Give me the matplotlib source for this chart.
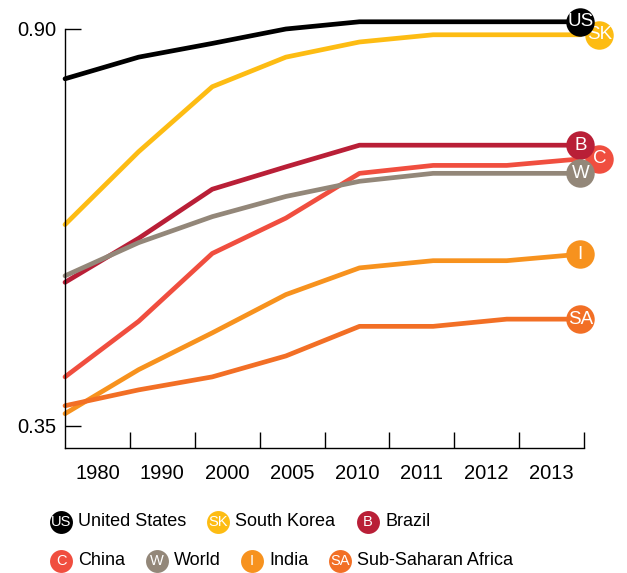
import numpy as np
import matplotlib.pyplot as plt
import matplotlib.transforms as mtransforms

plt.rcParams['font.family'] = ['Liberation Sans', 'DejaVu Sans']

# data
years = ['1980', '1990', '2000', '2005', '2010', '2011', '2012', '2013']
codes = ['US', 'SK', 'B', 'C', 'W', 'I', 'SA']
names = ['United States', 'South Korea', 'Brazil', 'China', 'World', 'India', 'Sub-Saharan Africa']
colors = ['#000000', '#FDBC13', '#B91F37', '#F04E3F', '#938779', '#F7921E', '#F26F25']

us = [0.831, 0.861, 0.880, 0.900, 0.910, 0.910, 0.910, 0.910]
south_korea = [0.629, 0.730, 0.820, 0.861, 0.882, 0.892, 0.892, 0.892]
brazil = [0.549, 0.610, 0.678, 0.709, 0.739, 0.739, 0.739, 0.739]
china = [0.418, 0.495, 0.589, 0.638, 0.700, 0.711, 0.711, 0.720]
world = [0.558, 0.604, 0.640, 0.668, 0.689, 0.700, 0.700, 0.700]
india = [0.367, 0.428, 0.479, 0.532, 0.569, 0.579, 0.579, 0.588]
ssa = [0.378, 0.400, 0.418, 0.447, 0.488, 0.488, 0.498, 0.498]
series = [us, south_korea, brazil, china, world, india, ssa]

fig = plt.figure(figsize=(6.27, 5.73), dpi=100)
ax = fig.add_axes([0.1037, 0.2182, 0.8278, 0.7312])

x = np.arange(len(years))
xmax = 7.05
ax.set_xlim(0, xmax)
ax.set_ylim(0.3195, 0.90)

# lines, then end markers (SK and C pushed right and sitting behind)
for vals, col in zip(series, colors):
    ax.plot(x, vals, color=col, lw=3.4, solid_capstyle='round', clip_on=False, zorder=2)

shift = {'SK': 19, 'C': 19}
order = ['SK', 'C', 'US', 'B', 'W', 'I', 'SA']
for k, code in enumerate(order):
    i = codes.index(code)
    tr = mtransforms.offset_copy(ax.transData, fig=fig, x=shift.get(code, 0), y=0, units='dots')
    ax.plot([x[-1]], [series[i][-1]], 'o', ms=20.5, color=colors[i], mec='none',
            transform=tr, clip_on=False, zorder=5 + k)
    ax.text(x[-1], series[i][-1], code, transform=tr, color='white', fontsize=13.5,
            ha='center', va='center', zorder=5 + k, clip_on=False)

# axes styling
for s in ['top', 'right']:
    ax.spines[s].set_visible(False)
for s in ['left', 'bottom']:
    ax.spines[s].set_linewidth(1.0)
ax.set_yticks([0.35, 0.90])
ax.set_yticklabels(['0.35', '0.90'])
ax.tick_params(axis='y', direction='in', length=11.5, width=1, pad=6, labelsize=14.5)

band = xmax / len(years)
ax.set_xticks([band * (k + 1) for k in range(len(years))])
ax.set_xticklabels([])
ax.set_xticks([band * (k + 0.5) for k in range(len(years))], minor=True)
ax.set_xticklabels(years, minor=True)
ax.tick_params(axis='x', which='major', direction='in', length=11.5, width=1)
ax.tick_params(axis='x', which='minor', length=0, pad=11.5, labelsize=14.5)

# legend built by hand
leg = [
    ('US', 0.0973, 0.0895), ('SK', 0.3477, 0.0895), ('B', 0.5869, 0.0895),
    ('C', 0.0973, 0.0213), ('W', 0.2504, 0.0213), ('I', 0.4019, 0.0213), ('SA', 0.5423, 0.0213),
]
for code, fx, fy in leg:
    i = codes.index(code)
    ax.plot([fx], [fy], 'o', ms=16.5, color=colors[i], mec='none',
            transform=fig.transFigure, clip_on=False)
    fig.text(fx, fy, code, color='white', fontsize=10.5, ha='center', va='center')
    fig.text(fx + 0.0275, fy, names[i], fontsize=13, ha='left', va='center')

plt.savefig('out.png', dpi=100)
